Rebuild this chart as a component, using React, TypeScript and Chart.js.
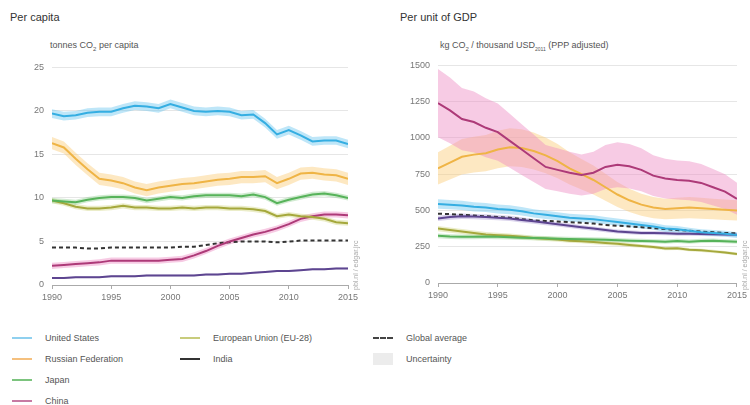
import React, { useEffect, useRef } from "react";
import { Chart, registerables } from "chart.js";
Chart.register(...registerables);

const years = [1990,1991,1992,1993,1994,1995,1996,1997,1998,1999,2000,2001,2002,2003,2004,2005,2006,2007,2008,2009,2010,2011,2012,2013,2014,2015];

// Per capita (tonnes CO2 per capita)
const usCap = [19.7,19.4,19.5,19.8,19.9,19.9,20.3,20.6,20.5,20.3,20.8,20.4,20.0,19.9,20.0,19.9,19.5,19.6,18.6,17.3,17.8,17.2,16.5,16.6,16.6,16.2];
const ruCap = [16.3,15.8,14.5,13.3,12.2,12.0,11.7,11.2,10.9,11.2,11.4,11.6,11.7,11.9,12.1,12.2,12.4,12.4,12.5,11.7,12.2,12.8,12.9,12.7,12.6,12.2];
const jpCap = [9.7,9.6,9.5,9.8,10.0,10.1,10.1,10.0,9.7,9.9,10.1,10.0,10.2,10.3,10.3,10.3,10.2,10.4,10.1,9.4,9.8,10.1,10.4,10.5,10.3,10.0];
const euCap = [9.7,9.4,9.0,8.8,8.8,8.9,9.1,8.9,8.9,8.8,8.8,8.9,8.8,8.9,8.9,8.8,8.8,8.7,8.5,7.9,8.1,7.9,7.8,7.6,7.2,7.1];
const cnCap = [2.2,2.3,2.4,2.5,2.6,2.8,2.8,2.8,2.8,2.8,2.9,3.0,3.4,3.9,4.5,5.0,5.4,5.8,6.1,6.5,7.0,7.6,7.9,8.1,8.1,8.0];
const inCap = [0.8,0.8,0.9,0.9,0.9,1.0,1.0,1.0,1.1,1.1,1.1,1.1,1.1,1.2,1.2,1.3,1.3,1.4,1.5,1.6,1.6,1.7,1.8,1.8,1.9,1.9];
const glCap = [4.3,4.3,4.3,4.2,4.2,4.3,4.3,4.3,4.3,4.3,4.3,4.4,4.4,4.6,4.8,4.9,5.0,5.0,5.0,4.9,5.0,5.1,5.1,5.1,5.1,5.1];

// Per unit of GDP (kg CO2 / thousand USD2011 PPP)
const usGdp = [545,540,535,525,520,510,505,495,480,470,460,450,445,440,430,420,410,400,390,375,370,360,350,345,340,330];
const ruGdp = [790,830,870,885,895,920,935,930,910,880,840,790,750,710,660,610,570,540,520,510,515,520,515,510,505,500];
const jpGdp = [325,320,318,318,320,318,315,312,310,308,305,303,302,300,298,295,292,290,288,285,290,285,290,292,288,285];
const euGdp = [375,365,355,345,335,330,325,318,310,305,300,292,288,282,276,270,262,255,248,238,240,230,225,218,210,200];
const cnGdp = [1240,1190,1130,1110,1070,1040,980,920,860,800,780,760,745,760,800,815,805,780,740,720,710,705,690,660,630,580];
const inGdp = [445,455,460,458,455,450,445,435,425,415,405,395,385,375,365,355,350,345,345,343,340,340,338,336,335,332];
const glGdp = [478,475,470,465,460,455,450,440,432,428,424,420,415,410,400,395,390,385,378,372,365,360,355,350,345,342];

// Uncertainty half-widths
const uncCapUS = 0.5, uncCapRU = 0.7, uncCapJP = 0.3, uncCapEU = 0.3, uncCapCN = 0.35, uncCapIN = 0.1;
const uncGdpUS = 0.06, uncGdpRU = 0.14, uncGdpJP = 0.05, uncGdpEU = 0.05, uncGdpCN = 0.19, uncGdpIN = 0.04;

const capTicks = { min: 0, max: 25, step: 5 };
const gdpTicks = { min: 0, max: 1500, step: 250 };

const C = {
  us: { line: "#35aee2", band: "rgba(110,200,240,0.45)", legend: "#8fd0ef" },
  ru: { line: "#efb445", band: "rgba(250,205,120,0.45)", legend: "#f5c07e" },
  jp: { line: "#57b35a", band: "rgba(140,205,140,0.40)", legend: "#7cc47e" },
  eu: { line: "#a5a83c", band: "rgba(205,210,120,0.40)", legend: "#c8cc7c" },
  cn: { line: "#ad3a78", band: "rgba(238,140,195,0.45)", legend: "#c77aa3" },
  in: { line: "#5d4590", band: "rgba(150,130,200,0.35)", legend: "#333" },
  gl: { line: "#333333" },
};

type S = { values: number[]; color: any; unc: number; rel: boolean; dashed?: boolean };

function buildDatasets(series: S[]) {
  const ds: any[] = [];
  series.forEach((s) => {
    if (s.unc > 0) {
      const h = (v: number) => (s.rel ? v * s.unc : s.unc);
      ds.push({
        data: years.map((y, i) => ({ x: y, y: s.values[i] + h(s.values[i]) })),
        borderWidth: 0, pointRadius: 0, fill: false, order: 3,
        borderColor: "rgba(0,0,0,0)",
      });
      ds.push({
        data: years.map((y, i) => ({ x: y, y: s.values[i] - h(s.values[i]) })),
        borderWidth: 0, pointRadius: 0, fill: "-1", backgroundColor: s.color.band, order: 3,
        borderColor: "rgba(0,0,0,0)",
      });
    }
  });
  series.forEach((s) => {
    ds.push({
      data: years.map((y, i) => ({ x: y, y: s.values[i] })),
      borderColor: s.color.line, borderWidth: 2, pointRadius: 0, fill: false,
      borderDash: s.dashed ? [4, 3] : [], order: 1, tension: 0,
    });
  });
  return ds;
}

function makeOptions(t: { min: number; max: number; step: number }, pad: any) {
  const font = { family: "'Liberation Sans', Arial, sans-serif", size: 9 };
  return {
    animation: false,
    responsive: false,
    maintainAspectRatio: false,
    layout: { padding: pad, autoPadding: false },
    plugins: { legend: { display: false }, tooltip: { enabled: false } },
    scales: {
      x: {
        type: "linear", min: 1990, max: 2015,
        afterFit: (s: any) => { s.height = 25; },
        ticks: { stepSize: 5, color: "#777", font, padding: 3, callback: (v: any) => String(v) },
        grid: { display: true, drawOnChartArea: false, tickLength: 4, color: "#aaa" },
        border: { display: true, color: "#aaa" },
      },
      y: {
        min: t.min, max: t.max,
        afterFit: (s: any) => { s.width = 30; },
        ticks: { stepSize: t.step, color: "#777", font, padding: 8, callback: (v: any) => String(v) },
        grid: { color: "#e6e6e6", drawTicks: false },
        border: { display: false },
      },
    },
  } as any;
}

function LineChart(props: { series: S[]; ticks: any; pad: any; w: number; h: number }) {
  const ref = useRef<HTMLCanvasElement>(null);
  useEffect(() => {
    const chart = new Chart(ref.current as HTMLCanvasElement, {
      type: "line",
      data: { datasets: buildDatasets(props.series) },
      options: makeOptions(props.ticks, props.pad),
    } as any);
    return () => chart.destroy();
  }, []);
  return <canvas ref={ref} width={props.w} height={props.h} style={{ width: props.w, height: props.h }} />;
}

const capSeries: S[] = [
  { values: usCap, color: C.us, unc: uncCapUS, rel: false },
  { values: ruCap, color: C.ru, unc: uncCapRU, rel: false },
  { values: jpCap, color: C.jp, unc: uncCapJP, rel: false },
  { values: euCap, color: C.eu, unc: uncCapEU, rel: false },
  { values: cnCap, color: C.cn, unc: uncCapCN, rel: false },
  { values: inCap, color: C.in, unc: uncCapIN, rel: false },
  { values: glCap, color: C.gl, unc: 0, rel: false, dashed: true },
];
const gdpSeries: S[] = [
  { values: cnGdp, color: C.cn, unc: uncGdpCN, rel: true },
  { values: ruGdp, color: C.ru, unc: uncGdpRU, rel: true },
  { values: usGdp, color: C.us, unc: uncGdpUS, rel: true },
  { values: jpGdp, color: C.jp, unc: uncGdpJP, rel: true },
  { values: euGdp, color: C.eu, unc: uncGdpEU, rel: true },
  { values: inGdp, color: C.in, unc: uncGdpIN, rel: true },
  { values: glGdp, color: C.gl, unc: 0, rel: true, dashed: true },
];

const legendItems = [
  { label: "United States", color: C.us.legend, x: 12, y: 332 },
  { label: "Russian Federation", color: C.ru.legend, x: 12, y: 353 },
  { label: "Japan", color: C.jp.legend, x: 12, y: 374 },
  { label: "China", color: C.cn.legend, x: 12, y: 395 },
  { label: "European Union (EU-28)", color: C.eu.legend, x: 180, y: 332 },
  { label: "India", color: C.in.legend, x: 180, y: 353 },
];

const sans = "'Liberation Sans', Arial, sans-serif";

export default function App() {
  return (
    <div style={{ position: "fixed", left: 0, top: 0, width: 750, height: 405, background: "#fff", fontFamily: sans, overflow: "hidden" }}>
      <div style={{ position: "absolute", left: 10, top: 11, fontSize: 11, color: "#333" }}>Per capita</div>
      <div style={{ position: "absolute", left: 400, top: 11, fontSize: 11, color: "#333" }}>Per unit of GDP</div>
      <div style={{ position: "absolute", left: 50, top: 40, fontSize: 9, color: "#555" }}>
        tonnes CO<sub style={{ fontSize: 6 }}>2</sub> per capita
      </div>
      <div style={{ position: "absolute", left: 440, top: 40, fontSize: 9, color: "#555" }}>
        kg CO<sub style={{ fontSize: 6 }}>2</sub> / thousand USD<sub style={{ fontSize: 5 }}>2011</sub> (PPP adjusted)
      </div>
      <div style={{ position: "absolute", left: 0, top: 54 }}>
        <LineChart series={capSeries} ticks={capTicks} pad={{ left: 22, top: 8, right: 17, bottom: 0 }} w={365} h={256} />
      </div>
      <div style={{ position: "absolute", left: 380, top: 52 }}>
        <LineChart series={gdpSeries} ticks={gdpTicks} pad={{ left: 28, top: 8, right: 13, bottom: 0 }} w={370} h={256} />
      </div>
      <div style={{ position: "absolute", left: 352, top: 290, fontSize: 7, color: "#aaa", transform: "rotate(-90deg)", transformOrigin: "left top", whiteSpace: "nowrap" }}>
        pbl.nl / edgar.jrc
      </div>
      <div style={{ position: "absolute", left: 741, top: 290, fontSize: 7, color: "#aaa", transform: "rotate(-90deg)", transformOrigin: "left top", whiteSpace: "nowrap" }}>
        pbl.nl / edgar.jrc
      </div>
      {legendItems.map((it) => (
        <div key={it.label} style={{ position: "absolute", left: it.x, top: it.y, height: 12, display: "flex", alignItems: "center", fontSize: 9, color: "#555", whiteSpace: "nowrap" }}>
          <span style={{ display: "inline-block", width: 20, height: 2, background: it.color, marginRight: 13 }} />
          {it.label}
        </div>
      ))}
      <div style={{ position: "absolute", left: 373, top: 332, height: 12, display: "flex", alignItems: "center", fontSize: 9, color: "#555", whiteSpace: "nowrap" }}>
        <span style={{ display: "inline-block", width: 20, height: 0, borderTop: "2px dashed #444", marginRight: 13 }} />
        Global average
      </div>
      <div style={{ position: "absolute", left: 373, top: 353, height: 12, display: "flex", alignItems: "center", fontSize: 9, color: "#555", whiteSpace: "nowrap" }}>
        <span style={{ display: "inline-block", width: 20, height: 12, background: "#ececec", marginRight: 13 }} />
        Uncertainty
      </div>
    </div>
  );
}
